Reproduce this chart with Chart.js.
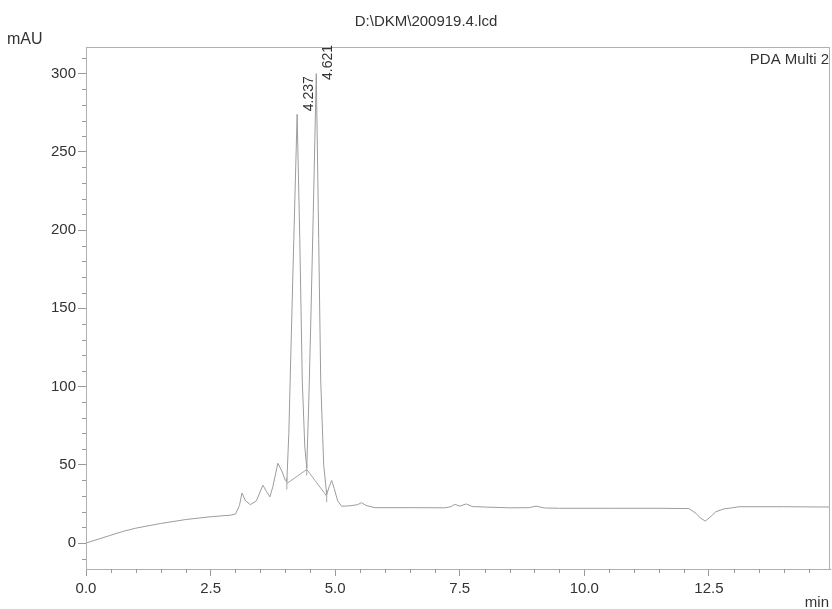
<!DOCTYPE html>
<html>
<head>
    <title>D:\DKM\200919.4.lcd</title>
    <script src="https://cdn.jsdelivr.net/npm/chart.js"></script>
    <style>
        body { margin: 0; background: #fff; }
        #wrap { width: 832px; height: 609px; position: relative; }
    </style>
</head>
<body>
    <div id="wrap"><canvas id="myChart"></canvas></div>

    <script>
        // retention time (min) and detector signal (mAU)
        var timeMin = [0, 0.25, 0.5, 0.75, 1.0, 1.5, 2.0, 2.5, 2.9, 3.0, 3.08, 3.13, 3.2, 3.3, 3.42, 3.55, 3.62, 3.69, 3.75, 3.85, 3.93, 4.0, 4.03,
            4.07, 4.11, 4.17, 4.237, 4.29, 4.34, 4.39, 4.43, 4.47, 4.51, 4.56, 4.621, 4.67, 4.71, 4.77, 4.83, 4.88, 4.93, 4.98, 5.05, 5.13,
            5.3, 5.45, 5.53, 5.62, 5.8, 6.5, 7.2, 7.32, 7.40, 7.5, 7.63, 7.75, 8.0, 8.5, 8.9, 9.03, 9.2, 9.5, 10.5, 11.5,
            12.1, 12.24, 12.33, 12.43, 12.54, 12.64, 12.8, 12.95, 13.1, 14.0, 14.93];
        var signalMAU = [0, 2.5, 5, 7.5, 9.5, 12.5, 15, 16.8, 17.8, 18.5, 24, 32, 27, 24.5, 27, 37, 33, 29.5, 36, 51, 46, 40, 39,
            70, 120, 194, 274, 194, 104, 62, 48, 90, 140, 210, 300, 194, 104, 50, 31, 36, 40, 35, 27, 23.5,
            23.8, 24.5, 25.8, 24, 22.6, 22.6, 22.5, 23.2, 24.7, 23.6, 25, 23.3, 23, 22.5, 22.6, 23.6, 22.4, 22.2, 22.2, 22.2,
            22, 19, 16, 14, 17, 20, 21.8, 22.4, 23.2, 23.2, 23];

        // integration baseline points
        var baseTime = [4.03, 4.43, 4.83];
        var baseMAU = [38, 47, 30];

        // labelled peaks
        var peakTimes = [4.237, 4.621];
        var peakHeights = [274, 300];

        var xTicks = [0, 2.5, 5, 7.5, 10, 12.5];
        var yTicks = [0, 50, 100, 150, 200, 250, 300];

        var titleText = 'D:\\DKM\\200919.4.lcd';
        var yUnit = 'mAU';
        var xUnit = 'min';
        var channelText = 'PDA Multi 2';

        var textColor = '#333';
        var axisColor = '#9a9a9a';
        var traceColor = '#9c9c9c';
        var fontFam = '"Liberation Sans", Arial, sans-serif';

        var extras = {
            id: 'extras',
            afterDraw: function(chart) {
                var c = chart.ctx, a = chart.chartArea;
                var xs = chart.scales.x, ys = chart.scales.y;
                c.save();
                // frame
                c.strokeStyle = '#b0b0b0';
                c.lineWidth = 1;
                c.strokeRect(a.left + 0.5, a.top + 0.5, a.right - a.left - 1, a.bottom - a.top);
                // minor ticks
                c.strokeStyle = axisColor;
                c.beginPath();
                for (var v = -10; v <= 310; v += 10) {
                    if (v % 50 === 0) continue;
                    var py = Math.round(ys.getPixelForValue(v)) + 0.5;
                    c.moveTo(a.left - 4, py); c.lineTo(a.left, py);
                }
                for (var t = 0.5; t < xs.max; t += 0.5) {
                    if (Math.abs(t / 2.5 - Math.round(t / 2.5)) < 1e-6) continue;
                    var px = Math.round(xs.getPixelForValue(t)) + 0.5;
                    c.moveTo(px, a.bottom); c.lineTo(px, a.bottom + 4);
                }
                c.stroke();

                // texts
                c.fillStyle = textColor;
                c.font = '15px ' + fontFam;
                c.textBaseline = 'middle';
                c.textAlign = 'center';
                c.fillText(titleText, 426, 22);
                c.textAlign = 'right';
                c.fillText(channelText, 829, 60);
                c.fillText(xUnit, 829, 603);
                c.font = '16px ' + fontFam;
                c.textAlign = 'left';
                c.fillText(yUnit, 7, 40);

                // peak labels
                c.font = '14px ' + fontFam;
                for (var i = 0; i < peakTimes.length; i++) {
                    var lbl = peakTimes[i].toFixed(3);
                    var w = c.measureText(lbl).width;
                    var tx = xs.getPixelForValue(peakTimes[i]) + 12;
                    var ty = Math.max(ys.getPixelForValue(peakHeights[i]) - 3, a.top + w - 2);
                    c.save();
                    c.translate(tx, ty);
                    c.rotate(-Math.PI / 2);
                    c.textAlign = 'left';
                    c.textBaseline = 'middle';
                    c.fillText(lbl, 0, 0);
                    c.restore();
                }
                c.restore();
            }
        };

        var ctx = document.getElementById('myChart').getContext('2d');
        var myChart = new Chart(ctx, {
            type: 'line',
            data: {
                datasets: [{
                    label: 'PDA Multi 2',
                    data: timeMin.map(function(t, i) { return { x: t, y: signalMAU[i] }; }),
                    borderColor: traceColor,
                    borderWidth: 1,
                    pointRadius: 0,
                    tension: 0,
                    fill: false
                }, {
                    label: 'baseline',
                    data: baseTime.map(function(t, i) { return { x: t, y: baseMAU[i] }; }),
                    borderColor: '#a5a5a5',
                    borderWidth: 1,
                    pointStyle: 'line',
                    pointRotation: 90,
                    pointRadius: 6,
                    pointBorderColor: '#a5a5a5',
                    pointBorderWidth: 1,
                    fill: false
                }]
            },
            options: {
                responsive: true,
                maintainAspectRatio: false,
                animation: false,
                devicePixelRatio: 1,
                layout: { autoPadding: false, padding: { top: 47, right: 2, left: 0, bottom: 0 } },
                plugins: { legend: { display: false }, tooltip: { enabled: false } },
                scales: {
                    x: {
                        type: 'linear',
                        min: 0,
                        max: 14.93,
                        afterFit: function(s) { s.height = 40; s.paddingLeft = 0; s.paddingRight = 0; },
                        afterBuildTicks: function(s) { s.ticks = xTicks.map(function(v) { return { value: v }; }); },
                        grid: { drawOnChartArea: false, tickLength: 7, color: axisColor },
                        border: { color: axisColor },
                        ticks: {
                            color: textColor,
                            padding: 4,
                            maxRotation: 0,
                            font: { family: fontFam, size: 15 },
                            callback: function(v) { return Number(v).toFixed(1); }
                        }
                    },
                    y: {
                        type: 'linear',
                        min: -16.6,
                        max: 317,
                        afterFit: function(s) { s.width = 86; },
                        afterBuildTicks: function(s) { s.ticks = yTicks.map(function(v) { return { value: v }; }); },
                        grid: { drawOnChartArea: false, tickLength: 8, color: axisColor },
                        border: { color: axisColor },
                        ticks: {
                            color: textColor,
                            padding: 2,
                            font: { family: fontFam, size: 15 },
                            callback: function(v) { return String(v); }
                        }
                    }
                }
            },
            plugins: [extras]
        });
    </script>
</body>
</html>
